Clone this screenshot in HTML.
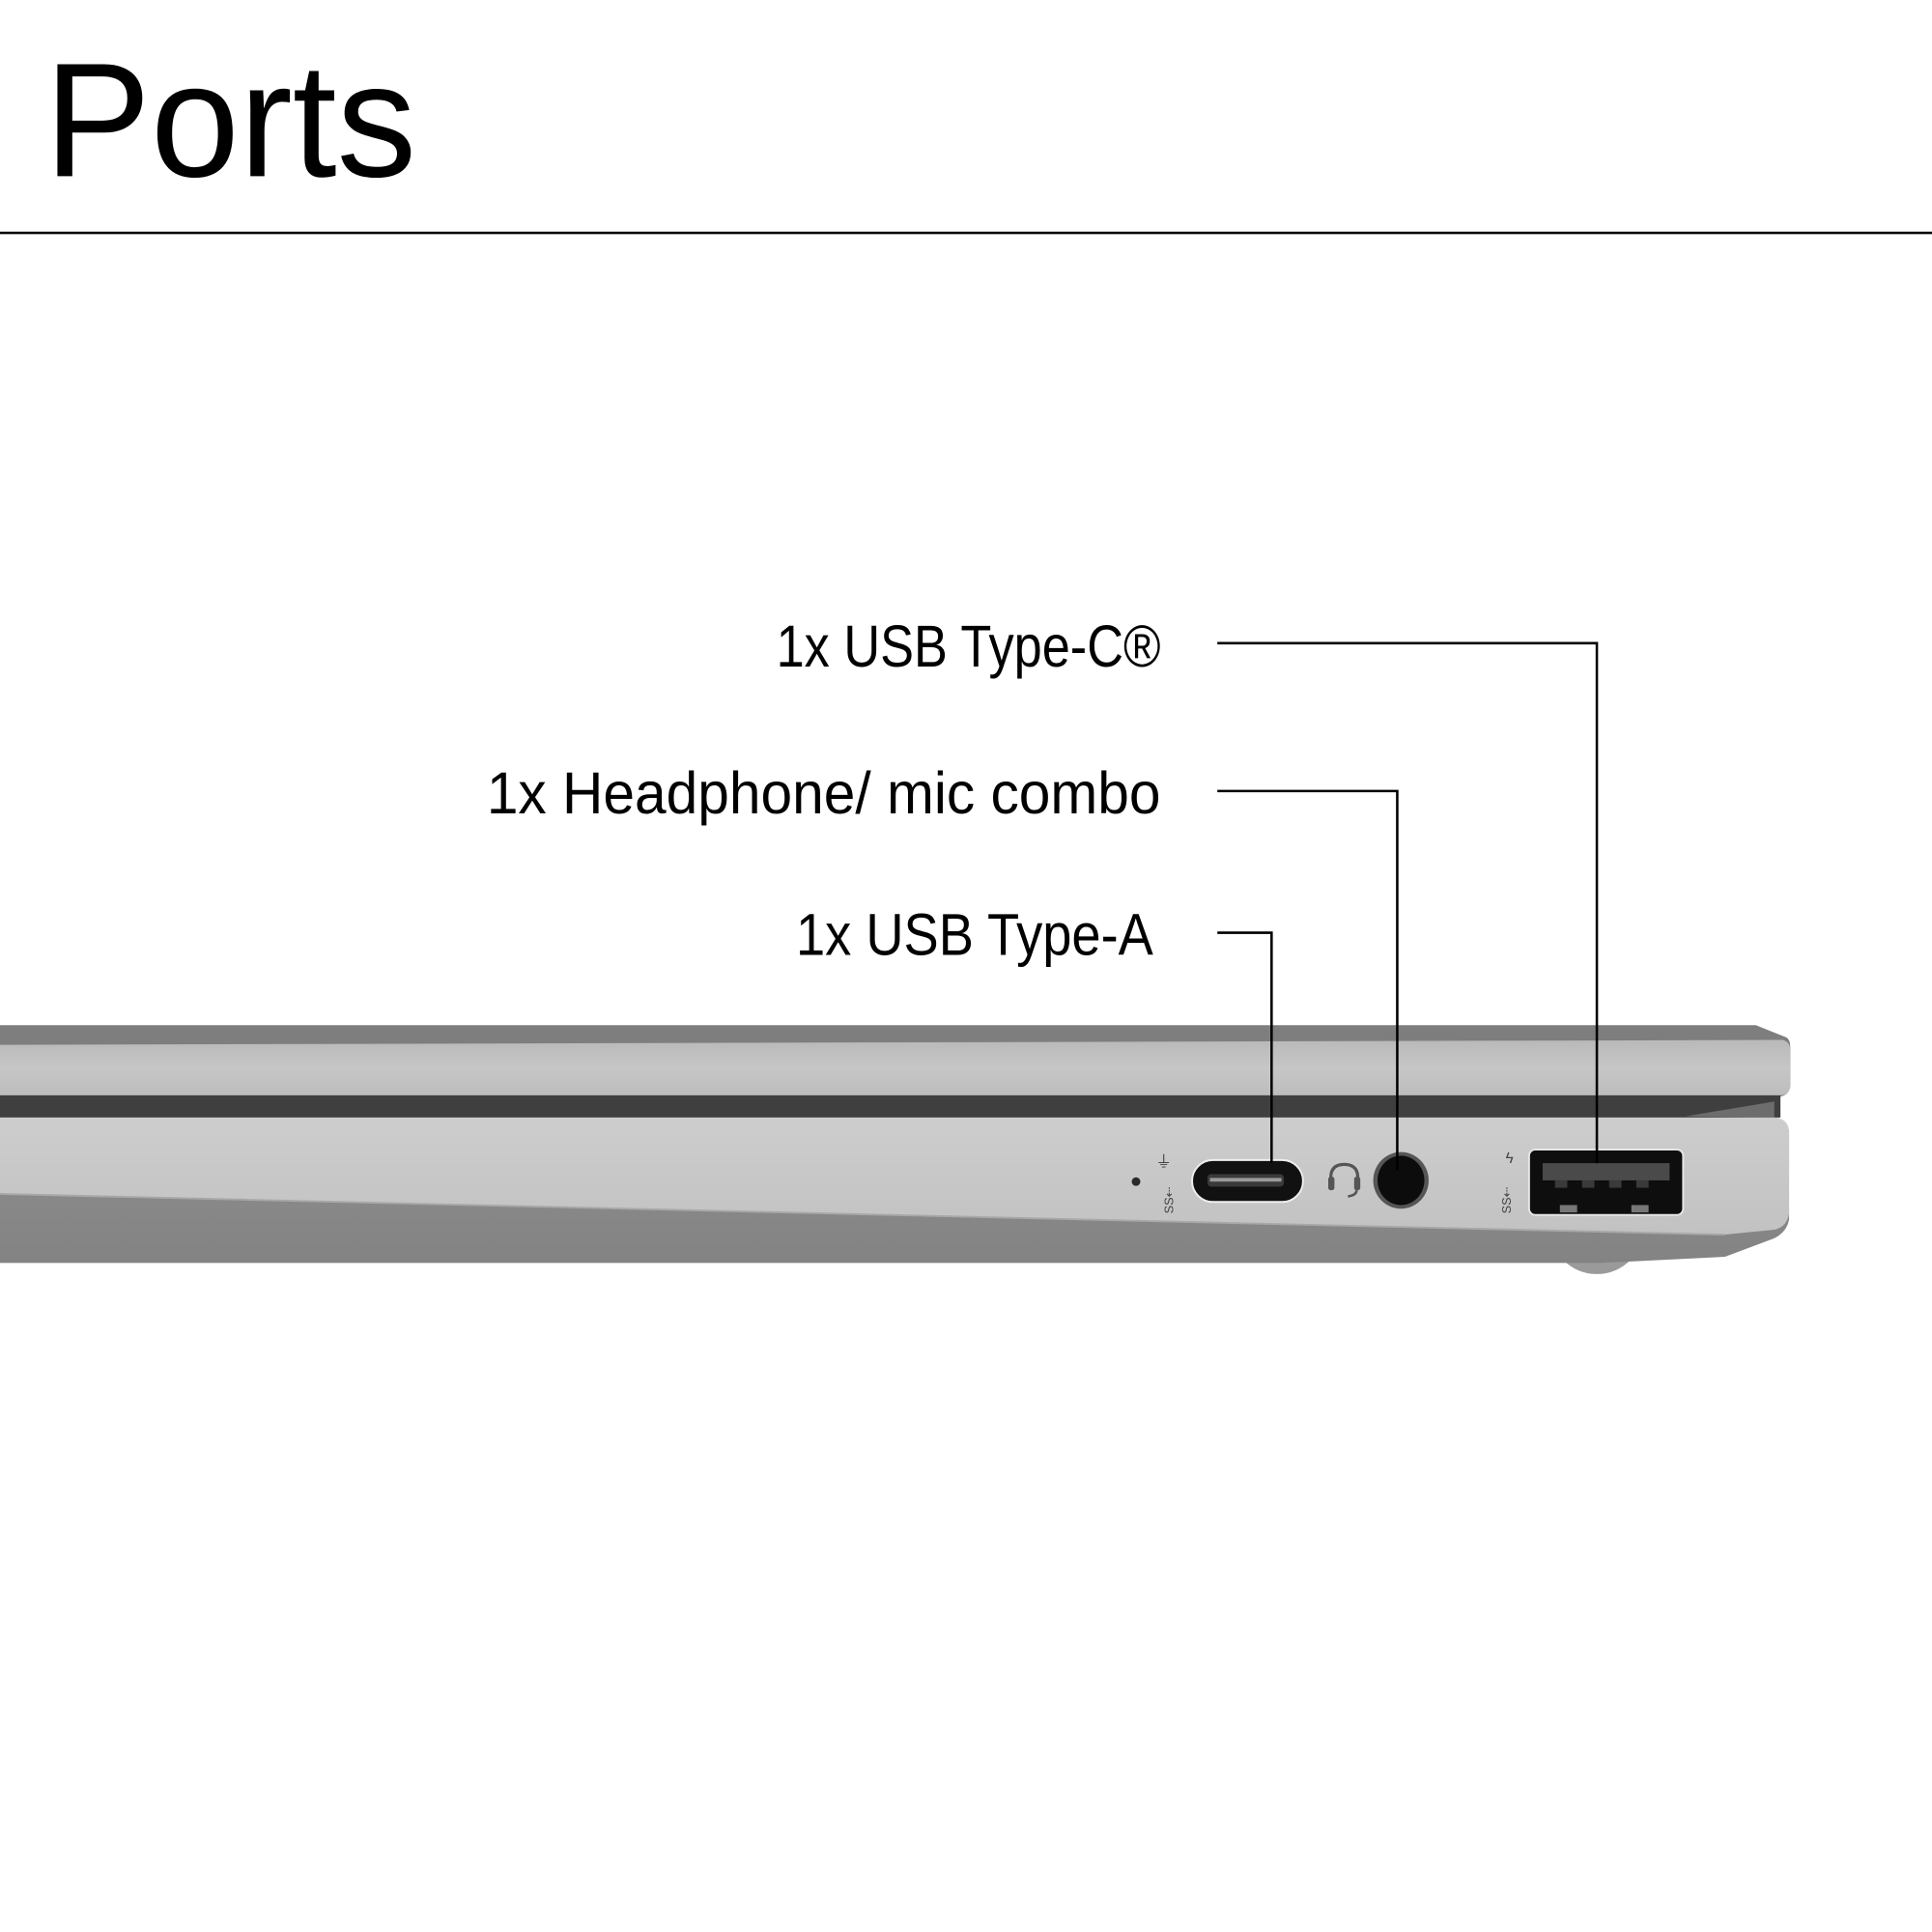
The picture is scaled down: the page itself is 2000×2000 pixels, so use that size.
<!DOCTYPE html>
<html><head><meta charset="utf-8"><style>html,body{margin:0;padding:0;background:#fff}svg{display:block}</style></head>
<body>
<svg width="2000" height="2000" viewBox="0 0 1568 1568" xmlns="http://www.w3.org/2000/svg">
<defs>
<linearGradient id="lid" x1="0" y1="0" x2="0" y2="1"><stop offset="0" stop-color="#b9b9b9"/><stop offset="0.5" stop-color="#c6c6c6"/><stop offset="1" stop-color="#bdbdbd"/></linearGradient>
<linearGradient id="base" x1="0" y1="0" x2="0" y2="1"><stop offset="0" stop-color="#cdcdcd"/><stop offset="1" stop-color="#c2c2c2"/></linearGradient>
<linearGradient id="bot" x1="0" y1="0" x2="0" y2="1"><stop offset="0" stop-color="#8f8f8f"/><stop offset="1" stop-color="#838383"/></linearGradient>
</defs>
<rect width="1568" height="1568" fill="#fff"/>
<text x="36" y="143" font-family="Liberation Sans, sans-serif" font-size="132" fill="#000" textLength="302" lengthAdjust="spacingAndGlyphs">Ports</text>
<rect x="0" y="188" width="1568" height="2" fill="#000"/>

<g font-family="Liberation Sans, sans-serif" font-size="48" fill="#000" text-anchor="end">
<text x="942" y="541" textLength="312" lengthAdjust="spacingAndGlyphs">1x USB Type-C®</text>
<text x="942" y="660" textLength="547" lengthAdjust="spacingAndGlyphs">1x Headphone/ mic combo</text>
<text x="936" y="775" textLength="290" lengthAdjust="spacingAndGlyphs">1x USB Type-A</text>
</g>

<!-- foot -->
<path d="M1268 1022 L1324 1022 Q1312 1034 1296 1034 Q1280 1034 1268 1022Z" fill="#9a9a9a"/>
<!-- lid -->
<path d="M0 832 L1425 832 L1450 842 Q1453 844 1453 850 L1453 880 Q1453 888 1445 890 L1440 892 L1440 907 L0 907Z" fill="#7e7e7e"/>
<path d="M0 848 L1447 844 Q1453 846 1453 852 L1453 882 Q1452 889 1444 889 L0 889Z" fill="url(#lid)"/>
<rect x="0" y="889" width="1445" height="18" fill="#3f3f3f"/>
<path d="M1368 906 L1440 894 L1440 907Z" fill="#6d6d6d"/>
<!-- base -->
<path d="M0 907 L1440 907 Q1452 908 1452 920 L1452 990 Q1450 1000 1440 1005 L1400 1020 L1300 1025 L0 1025Z" fill="url(#bot)"/>
<path d="M0 907 L1440 907 Q1452 908 1452 920 L1452 985 Q1450 996 1440 998 L1400 1002 L0 969Z" fill="url(#base)"/>
<line x1="0" y1="969" x2="1400" y2="1002" stroke="#a8a8a8" stroke-width="1.5"/>

<!-- LED -->
<circle cx="922" cy="959" r="3.5" fill="#2a2a2a"/>
<!-- SS icons -->
<g font-family="Liberation Sans, sans-serif" font-size="10" fill="#444">
<text transform="translate(952,985) rotate(-90)">SS⇠</text>
<text x="938" y="947" font-size="13">⏚</text>
<text transform="translate(1226,985) rotate(-90)">SS⇠</text>
<text x="1222" y="944" font-size="12">ϟ</text>
</g>
<!-- USB-C -->
<rect x="967.5" y="941.5" width="90" height="34" rx="17" fill="#111" stroke="#eee" stroke-width="1.5"/>
<rect x="980" y="953" width="62" height="10" rx="3" fill="#3a3a3a"/>
<rect x="982" y="956" width="58" height="3" fill="#9a9a9a"/>
<!-- headphone icon -->
<path d="M1080 962 L1080 956 Q1080 945 1091 945 Q1102 945 1102 956 L1102 962" fill="none" stroke="#555" stroke-width="2.5"/>
<rect x="1078" y="955" width="5" height="11" rx="2" fill="#555"/>
<rect x="1099" y="955" width="5" height="11" rx="2" fill="#555"/>
<path d="M1101 966 Q1101 970 1094 971" fill="none" stroke="#555" stroke-width="2"/>
<!-- jack -->
<ellipse cx="1137" cy="958" rx="22.5" ry="23" fill="#555"/>
<ellipse cx="1137" cy="958" rx="19" ry="20" fill="#0c0c0c"/>
<!-- USB-A -->
<rect x="1241" y="933" width="125" height="53" rx="5" fill="#0e0e0e" stroke="#e6e6e6" stroke-width="1.5"/>
<rect x="1252" y="944" width="103" height="14" fill="#4a4a4a"/>
<g fill="#3a3a3a"><rect x="1262" y="958" width="10" height="6"/><rect x="1284" y="958" width="10" height="6"/><rect x="1306" y="958" width="10" height="6"/><rect x="1328" y="958" width="10" height="6"/></g>
<rect x="1266" y="978" width="14" height="6" fill="#777"/>
<rect x="1324" y="978" width="14" height="6" fill="#777"/>

<!-- leader lines -->
<g fill="none" stroke="#000" stroke-width="2">
<polyline points="988,522 1296,522 1296,944"/>
<polyline points="988,642 1134,642 1134,950"/>
<polyline points="988,757 1032,757 1032,944"/>
</g>
</svg>
</body></html>
